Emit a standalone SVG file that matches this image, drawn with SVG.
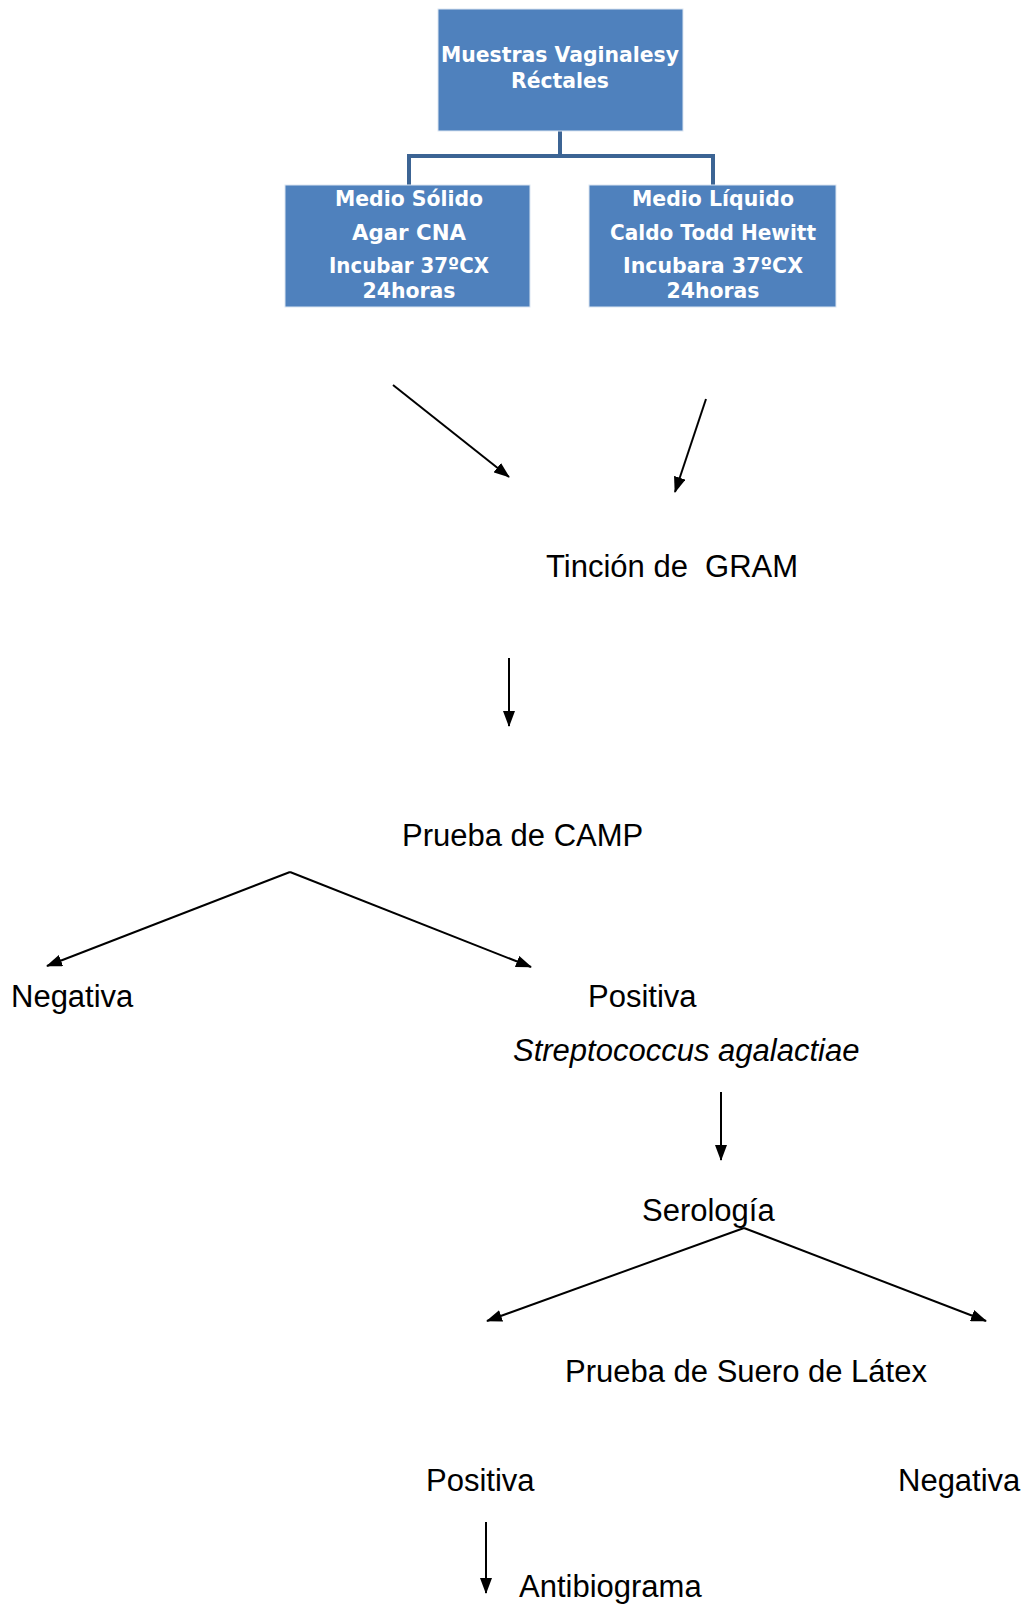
<svg xmlns="http://www.w3.org/2000/svg" width="1023" height="1605" viewBox="0 0 1023 1605">
<style>
.box{fill:#4F81BD;stroke:#DCE6F2;stroke-width:1}
.bt{font-family:"DejaVu Sans","Liberation Sans",sans-serif;font-weight:bold;font-size:21px;fill:#fff;text-anchor:middle}
.t{font-family:"Liberation Sans",Arial,sans-serif;font-size:31px;fill:#000}
.ar{stroke:#000;stroke-width:2;fill:none;marker-end:url(#ah)}
.tree{stroke:#3C6494;stroke-width:4;fill:none}
</style>
<defs>
<marker id="ah" viewBox="0 0 16 12" refX="15" refY="6" markerWidth="16" markerHeight="12" markerUnits="userSpaceOnUse" orient="auto">
<path d="M0,0 L16,6 L0,12 z" fill="#000"/>
</marker>
</defs>
<rect width="1023" height="1605" fill="#fff"/>
<g id="connectors">
<path class="tree" d="M560,131 V156 M409,185 V156 H713 V185"/>
<line class="ar" x1="393" y1="385" x2="509" y2="477"/>
<line class="ar" x1="706" y1="399" x2="675" y2="492"/>
<line class="ar" x1="509" y1="658" x2="509" y2="726"/>
<line class="ar" x1="290" y1="872" x2="47" y2="966"/>
<line class="ar" x1="290" y1="872" x2="531" y2="967"/>
<line class="ar" x1="721" y1="1092" x2="721" y2="1160"/>
<line class="ar" x1="744" y1="1228" x2="487" y2="1321"/>
<line class="ar" x1="744" y1="1228" x2="986" y2="1321"/>
<line class="ar" x1="486" y1="1522" x2="486" y2="1593"/>
</g>
<g id="muestras">
<rect class="box" x="438" y="9" width="245" height="122"/>
<text class="bt" x="560" y="62" textLength="238" lengthAdjust="spacingAndGlyphs">Muestras Vaginalesy</text>
<text class="bt" x="560" y="88" textLength="98" lengthAdjust="spacingAndGlyphs">Réctales</text>
</g>
<g id="solido">
<rect class="box" x="285" y="185" width="245" height="122"/>
<text class="bt" x="409" y="206" textLength="148" lengthAdjust="spacingAndGlyphs">Medio Sólido</text>
<text class="bt" x="409" y="240" textLength="114" lengthAdjust="spacingAndGlyphs">Agar CNA</text>
<text class="bt" x="409" y="273" textLength="160" lengthAdjust="spacingAndGlyphs">Incubar 37ºCX</text>
<text class="bt" x="409" y="298" textLength="93" lengthAdjust="spacingAndGlyphs">24horas</text>
</g>
<g id="liquido">
<rect class="box" x="589" y="185" width="247" height="122"/>
<text class="bt" x="713" y="206" textLength="162" lengthAdjust="spacingAndGlyphs">Medio Líquido</text>
<text class="bt" x="713" y="240" textLength="206" lengthAdjust="spacingAndGlyphs">Caldo Todd Hewitt</text>
<text class="bt" x="713" y="273" textLength="180" lengthAdjust="spacingAndGlyphs">Incubara 37ºCX</text>
<text class="bt" x="713" y="298" textLength="93" lengthAdjust="spacingAndGlyphs">24horas</text>
</g>
<g id="gram"><text class="t" x="546" y="577" xml:space="preserve">Tinción de  GRAM</text></g>
<g id="camp"><text class="t" x="402" y="846">Prueba de CAMP</text></g>
<g id="negativa1"><text class="t" x="11" y="1007">Negativa</text></g>
<g id="positiva1">
<text class="t" x="588" y="1007">Positiva</text>
<text class="t" x="513" y="1061" font-style="italic">Streptococcus agalactiae</text>
</g>
<g id="serologia"><text class="t" x="642" y="1221">Serología</text></g>
<g id="latex"><text class="t" x="565" y="1382">Prueba de Suero de Látex</text></g>
<g id="positiva2"><text class="t" x="426" y="1491">Positiva</text></g>
<g id="negativa2"><text class="t" x="898" y="1491">Negativa</text></g>
<g id="antibiograma"><text class="t" x="519" y="1597">Antibiograma</text></g>
</svg>
